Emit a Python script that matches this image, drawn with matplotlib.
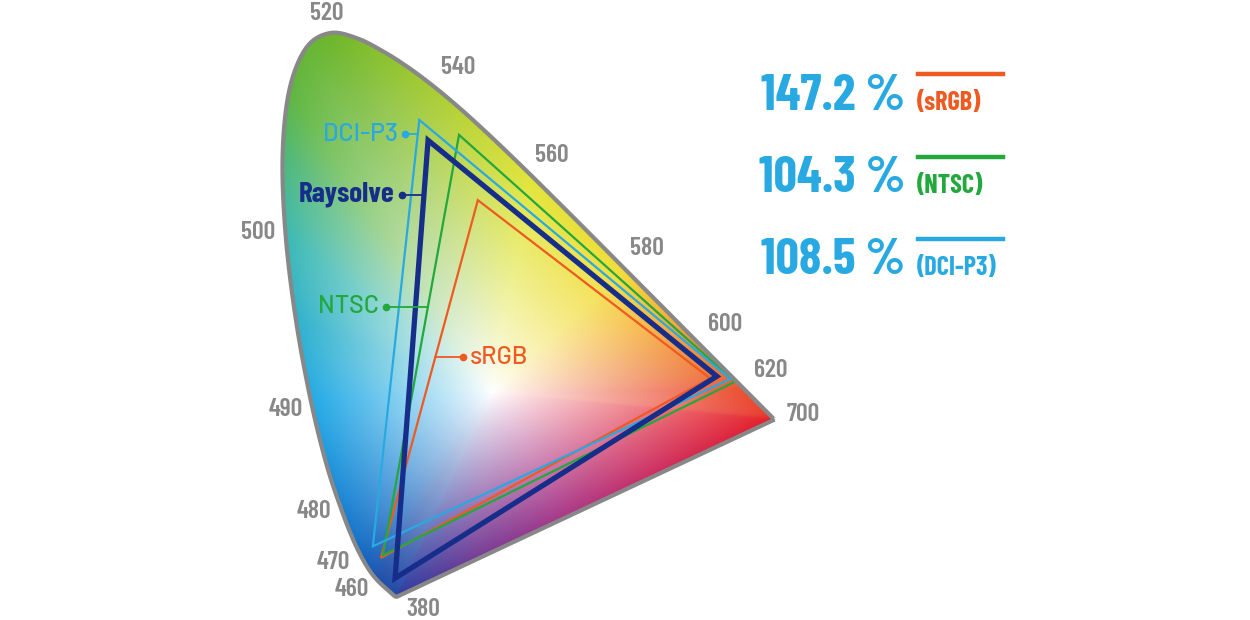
import numpy as np
import matplotlib
matplotlib.use("Agg")
import matplotlib.pyplot as plt
from matplotlib.patches import Polygon

# CIE 1931 spectral locus, 5 nm steps (380..700)
wavelengths = list(range(380, 705, 5))
locus_x = [0.1741, 0.1740, 0.1738, 0.1736, 0.1733, 0.1730, 0.1726, 0.1721, 0.1714, 0.1703,
           0.1689, 0.1669, 0.1644, 0.1611, 0.1566, 0.1510, 0.1440, 0.1355, 0.1241, 0.1096,
           0.0913, 0.0687, 0.0454, 0.0235, 0.0082, 0.0039, 0.0139, 0.0389, 0.0743, 0.1142,
           0.1547, 0.1929, 0.2296, 0.2658, 0.3016, 0.3373, 0.3731, 0.4087, 0.4441, 0.4788,
           0.5125, 0.5448, 0.5752, 0.6029, 0.6270, 0.6482, 0.6658, 0.6801, 0.6915, 0.7006,
           0.7079, 0.7140, 0.7190, 0.7230, 0.7260, 0.7283, 0.7300, 0.7311, 0.7320, 0.7327,
           0.7334, 0.7340, 0.7344, 0.7346, 0.7347]
locus_y = [0.0050, 0.0050, 0.0049, 0.0049, 0.0048, 0.0048, 0.0048, 0.0048, 0.0051, 0.0058,
           0.0069, 0.0086, 0.0109, 0.0138, 0.0177, 0.0227, 0.0297, 0.0399, 0.0578, 0.0868,
           0.1327, 0.2007, 0.2950, 0.4127, 0.5384, 0.6548, 0.7502, 0.8120, 0.8338, 0.8262,
           0.8059, 0.7816, 0.7543, 0.7243, 0.6923, 0.6589, 0.6245, 0.5896, 0.5547, 0.5202,
           0.4866, 0.4544, 0.4242, 0.3965, 0.3725, 0.3514, 0.3340, 0.3197, 0.3083, 0.2993,
           0.2920, 0.2859, 0.2809, 0.2770, 0.2740, 0.2717, 0.2700, 0.2689, 0.2680, 0.2673,
           0.2666, 0.2660, 0.2656, 0.2653, 0.2653]

# wavelength labels shown around the locus
tick_nm = [520, 540, 560, 580, 600, 620, 700, 500, 490, 480, 470, 460, 380]

# gamut triangles (x, y) as drawn: top (green), right (red), bottom (blue)
gamut_x = {
    "sRGB":     [0.294, 0.639, 0.150],
    "NTSC":     [0.266, 0.676, 0.153],
    "DCI-P3":   [0.207, 0.669, 0.138],
    "Raysolve": [0.220, 0.649, 0.171],
}
gamut_y = {
    "sRGB":     [0.588, 0.326, 0.062],
    "NTSC":     [0.684, 0.321, 0.066],
    "DCI-P3":   [0.706, 0.325, 0.079],
    "Raysolve": [0.676, 0.329, 0.032],
}

# coverage of Raysolve vs. each standard
coverage_names = ["sRGB", "NTSC", "DCI-P3"]
coverage_pct = [147.2, 104.3, 108.5]

colors = {"sRGB": "#ef5a23", "NTSC": "#22a83c", "DCI-P3": "#29a9e1",
          "Raysolve": "#162d8a"}
widths = {"sRGB": 1.6, "NTSC": 1.6, "DCI-P3": 1.6, "Raysolve": 3.8}
pct_color = "#29a9e1"
gray = "#888888"
FONT = ["Barlow Condensed", "Roboto Condensed", "IBM Plex Sans Condensed", "DejaVu Sans"]
FONT_WIDE = ["Barlow", "Roboto", "DejaVu Sans"]

# edge colours of the illustration along the locus (nm -> rgb)
edge_nm = [380, 460, 470, 480, 490, 500, 510, 520, 540, 560, 580, 590, 600, 620, 700]
edge_rgb = [(45, 60, 160), (30, 80, 170), (20, 100, 190), (25, 130, 210), (35, 170, 230),
            (60, 185, 180), (95, 182, 65), (110, 182, 42), (170, 205, 50), (225, 228, 55),
            (242, 220, 55), (245, 180, 55), (240, 140, 55), (235, 80, 50), (228, 30, 40)]
# along the purple line, from 700 nm back to 380 nm
purple_t = [0.0, 0.3, 0.55, 0.8, 1.0]
purple_rgb = [(228, 30, 40), (205, 45, 95), (170, 55, 135), (115, 60, 150), (45, 60, 160)]
white_xy = (0.315, 0.305)

W, H = 1250, 620
fig = plt.figure(figsize=(W / 100, H / 100), dpi=100)
ax = fig.add_axes([0, 0, 1, 1])
# pixel mapping: px = 280 + 673*x, py = 600 - 680*y
ax.set_xlim(-280 / 673, (W - 280) / 673)
ax.set_ylim((600 - H) / 680, 600 / 680)
ax.axis("off")


def catmull_rom(xs, ys, n=8):
    p = np.column_stack([xs, ys])
    p = np.vstack([p[0], p, p[-1]])
    out = []
    for i in range(1, len(p) - 2):
        p0, p1, p2, p3 = p[i - 1], p[i], p[i + 1], p[i + 2]
        for u in np.linspace(0, 1, n, endpoint=False):
            out.append(0.5 * ((2 * p1) + (-p0 + p2) * u
                              + (2 * p0 - 5 * p1 + 4 * p2 - p3) * u ** 2
                              + (-p0 + 3 * p1 - 3 * p2 + p3) * u ** 3))
    out.append(p[-2])
    return np.array(out)


smooth = catmull_rom(locus_x, locus_y)

# boundary samples with their colour
lx, ly = np.array(locus_x), np.array(locus_y)
wl = np.array(wavelengths, float)
edge_rgb = np.array(edge_rgb, float) / 255
purple_rgb = np.array(purple_rgb, float) / 255
b_col = np.column_stack([np.interp(wl, edge_nm, edge_rgb[:, k]) for k in range(3)])
t = np.linspace(0, 1, 60)[1:-1]
px_ = lx[-1] + (lx[0] - lx[-1]) * t
py_ = ly[-1] + (ly[0] - ly[-1]) * t
p_col = np.column_stack([np.interp(t, purple_t, purple_rgb[:, k]) for k in range(3)])
bx = np.concatenate([lx, px_])
by = np.concatenate([ly, py_])
bc = np.vstack([b_col, p_col])
ang = np.arctan2(by - white_xy[1], bx - white_xy[0])
rad = np.hypot(by - white_xy[1], bx - white_xy[0])
order = np.argsort(ang)
ang, rad, bc = ang[order], rad[order], bc[order]
ang_p = np.concatenate([ang - 2 * np.pi, ang, ang + 2 * np.pi])
rad_p = np.tile(rad, 3)
bc_p = np.vstack([bc, bc, bc])

gx, gy = np.meshgrid(np.linspace(0, 0.75, 500), np.linspace(0, 0.85, 500))
theta = np.arctan2(gy - white_xy[1], gx - white_xy[0])
r = np.hypot(gy - white_xy[1], gx - white_xy[0])
R = np.interp(theta, ang_p, rad_p)
s = np.clip(r / R, 0, 1) ** 0.9
edge = np.stack([np.interp(theta, ang_p, bc_p[:, k]) for k in range(3)], -1)
img = 1 - (1 - edge) * s[..., None]

im = ax.imshow(img, extent=[0, 0.75, 0, 0.85], origin="lower", interpolation="bilinear",
               aspect="auto", zorder=1)
outline = Polygon(smooth, closed=True, fill=False, edgecolor=gray, lw=3,
                  joinstyle="miter", zorder=5)
ax.add_patch(outline)
im.set_clip_path(outline)

# wavelength labels
label_offsets = {520: (-2, 14), 540: (17, 14), 560: (15, 14), 580: (16, 15),
                 600: (17, 16), 620: (18, 14), 700: (21, 4), 500: (-20, 1),
                 490: (-18, -7), 480: (-20, -1), 470: (-22, -1), 460: (-18, -7),
                 380: (19, -9)}
for nm in tick_nm:
    i = wavelengths.index(nm)
    ax.annotate(str(nm), (locus_x[i], locus_y[i]), xytext=label_offsets[nm],
                textcoords="offset points", ha="center", va="center",
                fontsize=18.5, fontweight="semibold", color=gray, family=FONT, zorder=6)

# triangles
for name in ["sRGB", "NTSC", "DCI-P3", "Raysolve"]:
    tri = Polygon(np.column_stack([gamut_x[name], gamut_y[name]]), closed=True,
                  fill=False, edgecolor=colors[name], lw=widths[name],
                  joinstyle="miter", zorder=4 if name != "Raysolve" else 4.5)
    ax.add_patch(tri)


def left_edge_x(name, yv):
    xs, ys = gamut_x[name], gamut_y[name]
    return np.interp(yv, [ys[2], ys[0]], [xs[2], xs[0]])


# callout labels: (y on the left edge, dot x, text side, font size, weight, font)
callouts = {"DCI-P3": (0.685, 0.186, "left", 18, "medium", FONT_WIDE),
            "Raysolve": (0.596, 0.181, "left", 21, "bold", FONT),
            "NTSC": (0.431, 0.158, "left", 18, "medium", FONT_WIDE),
            "sRGB": (0.357, 0.272, "right", 18, "medium", FONT_WIDE)}
for name, (yv, dx, side, fs, fw, fam) in callouts.items():
    ex = left_edge_x(name, yv)
    ax.plot([dx, ex], [yv, yv], color=colors[name], lw=1.3, zorder=6)
    ax.plot(dx, yv, "o", color=colors[name], ms=4.5, zorder=6)
    off, ha = ((-5, 0), "right") if side == "left" else ((5, 0), "left")
    ax.annotate(name, (dx, yv), xytext=off, textcoords="offset points",
                ha=ha, va="center", fontsize=fs, fontweight=fw,
                color=colors[name], family=fam, zorder=6)

# coverage figures on the right
row_y = [96, 179, 261]
for name, pct, ry in zip(coverage_names, coverage_pct, row_y):
    fig.text(905 / W, 1 - ry / H, f"{pct:.1f} %", ha="right", va="center",
             fontsize=37, fontweight="bold", color=pct_color, family=FONT)
    fig.text(917 / W, 1 - (ry + 7) / H, f"({name})", ha="left", va="center",
             fontsize=19, fontweight="bold", color=colors[name], family=FONT)
    fig.add_artist(plt.Line2D([918 / W, 1003 / W], [1 - (ry - 22) / H] * 2,
                              color=colors[name], lw=3.2))

fig.savefig("out.png", dpi=100)
